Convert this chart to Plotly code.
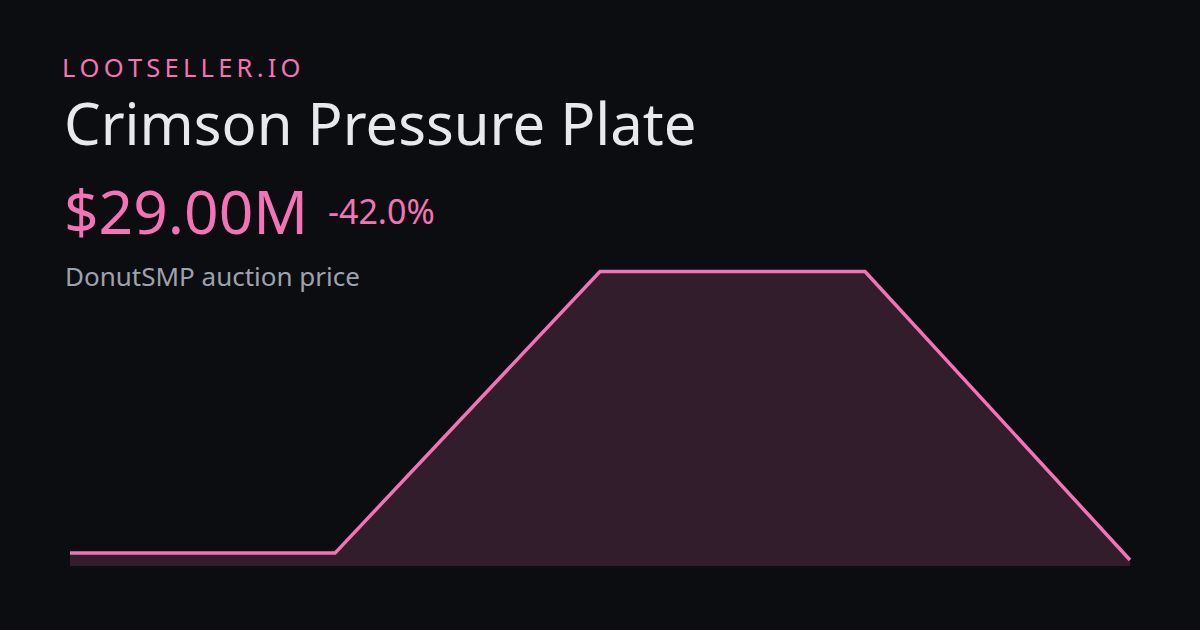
import plotly.graph_objects as go

# Data
points = [0, 1, 2, 3, 4]
prices_m = [29.5, 29.5, 50.0, 50.0, 29.0]

brand = "L\u2009O\u2009O\u2009T\u2009S\u2009E\u2009L\u2009L\u2009E\u2009R\u2009.\u2009I\u2009O"
title = "Crimson Pressure Plate"
price_label = "$29.00M"
change_label = "-42.0%"
subtitle = "DonutSMP auction price"

BG = "#0c0d10"
PINK = "#f472b6"
FONT = "Noto Sans"

W, H = 1200, 630
ML, MR, MT, MB = 60, 60, 262, 64
PLOT_H = H - MT - MB


def py(pix):
    return (H - MB - pix) / PLOT_H


def px(pix):
    return (pix - ML) / (W - ML - MR)


fig = go.Figure()
fig.add_trace(go.Scatter(
    x=points, y=prices_m, mode="lines",
    line=dict(color=PINK, width=3.5),
    fill="tozeroy", fillcolor="rgba(244,114,182,0.17)",
    hoverinfo="skip",
))

fig.update_layout(
    width=W, height=H,
    margin=dict(l=ML, r=MR, t=MT, b=MB),
    paper_bgcolor=BG, plot_bgcolor=BG,
    showlegend=False,
    xaxis=dict(range=[-10 / 265, 4 + 10 / 265], visible=False, fixedrange=True),
    yaxis=dict(range=[28.56, 50.69], visible=False, fixedrange=True),
    font=dict(family=FONT),
)

ann = [
    (brand, 61, 67.2, 25.5, PINK),
    (title, 63, 122.2, 58, "#e8e9ec"),
    (price_label, 63, 211, 60.5, PINK),
    (change_label, 327, 211, 34, PINK),
    (subtitle, 64, 276, 26, "#9ca3af"),
]
for text, x, y, size, color in ann:
    fig.add_annotation(
        text=text, xref="paper", yref="paper", x=px(x), y=py(y),
        xanchor="left", yanchor="middle", showarrow=False, borderpad=0,
        font=dict(family=FONT, size=size, color=color),
    )

fig.write_html(
    "out.html",
    config={"displayModeBar": False},
    post_script="document.body.style.margin='0';document.body.style.background='#0c0d10';",
)
